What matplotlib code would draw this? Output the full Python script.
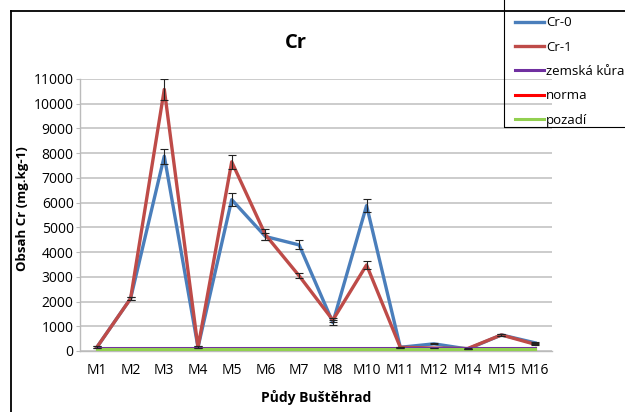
import matplotlib
matplotlib.use("Agg")
import matplotlib.pyplot as plt
from matplotlib.lines import Line2D
from matplotlib.patches import Rectangle

plt.rcParams['font.family'] = ['Open Sans', 'DejaVu Sans']

# Sampling sites
sites = ["M1", "M2", "M3", "M4", "M5", "M6", "M7", "M8", "M10",
         "M11", "M12", "M14", "M15", "M16"]

# Chromium content (mg/kg) and its spread
cr0 = [150, 2120, 7880, 150, 6120, 4630, 4290, 1150, 5880, 150, 290, 80, 650, 330]
cr0_err = [40, 60, 300, 40, 250, 150, 180, 100, 250, 20, 20, 10, 40, 20]
cr1 = [150, 2120, 10580, 150, 7650, 4700, 3040, 1250, 3480, 150, 120, 100, 650, 270]
cr1_err = [40, 60, 420, 40, 290, 220, 100, 90, 150, 20, 10, 10, 40, 20]

# Reference levels (mg/kg)
zemska_kura = 135
norma = 50
pozadi = 100

fig = plt.figure(figsize=(6.25, 4.12), dpi=100)
ax = fig.add_axes([80 / 625, 1 - 351 / 412, 472 / 625, 272 / 412])

x = list(range(len(sites)))
ax.plot(x, cr0, color="#4A7EBB", lw=2.4, label="Cr-0", zorder=3)
ax.plot(x, cr1, color="#BE4B48", lw=2.4, label="Cr-1", zorder=3)
ax.errorbar(x, cr0, yerr=cr0_err, fmt="none", ecolor="#222222",
            elinewidth=0.8, capsize=3, capthick=0.8, zorder=4)
ax.errorbar(x, cr1, yerr=cr1_err, fmt="none", ecolor="#222222",
            elinewidth=0.8, capsize=3, capthick=0.8, zorder=4)
ax.plot(x, [zemska_kura] * len(x), color="#7030A0", lw=2.2,
        label="zemská kůra", zorder=3)
ax.plot(x, [norma] * len(x), color="#FF0000", lw=2.2, label="norma", zorder=3)
ax.plot(x, [pozadi] * len(x), color="#92D050", lw=2.2, label="pozadí", zorder=3)

ax.set_xlim(-0.5, len(sites) - 0.5)
ax.set_ylim(0, 11000)
ax.set_yticks(range(0, 11001, 1000))
ax.set_xticks(x)
ax.set_xticklabels(sites)
ax.grid(axis="y", color="#C8C8C8", lw=1.3)
ax.set_axisbelow(True)
for side in ("top", "right"):
    ax.spines[side].set_visible(False)
for side in ("left", "bottom"):
    ax.spines[side].set_color("#BBBBBB")
    ax.spines[side].set_linewidth(1.0)
ax.tick_params(axis="y", length=3, color="#BBBBBB", labelsize=10, pad=1.5)
ax.tick_params(axis="x", length=0, labelsize=10, pad=9)

ax.set_title("Cr", fontsize=14.5, fontweight="bold", pad=22, x=0.458)
ax.set_ylabel("Obsah Cr (mg.kg-1)", fontsize=9.5, fontweight="bold",
              va="center")
ax.yaxis.set_label_coords(-0.122, 0.522)
ax.set_xlabel("Půdy Buštěhrad", fontsize=10, fontweight="bold", labelpad=8)

# Chart frame
fig.add_artist(Line2D([11 / 625, 11 / 625], [0, 1 - 11 / 412],
                      transform=fig.transFigure, color="black", lw=1.3))
fig.add_artist(Line2D([11 / 625, 1], [1 - 11 / 412, 1 - 11 / 412],
                      transform=fig.transFigure, color="black", lw=1.3))

# Legend box
fig.add_artist(Rectangle((504 / 625, 1 - 127 / 412), 0.3, 0.4,
                         transform=fig.transFigure, fill=False,
                         edgecolor="black", lw=0.8))
leg = fig.legend(loc="upper left", bbox_to_anchor=(510 / 625, 1 - 11 / 412),
                 frameon=False, fontsize=9.5, handlelength=2.2,
                 handletextpad=0.15, labelspacing=0.86, borderaxespad=0)

fig.savefig("out.png", dpi=100)
